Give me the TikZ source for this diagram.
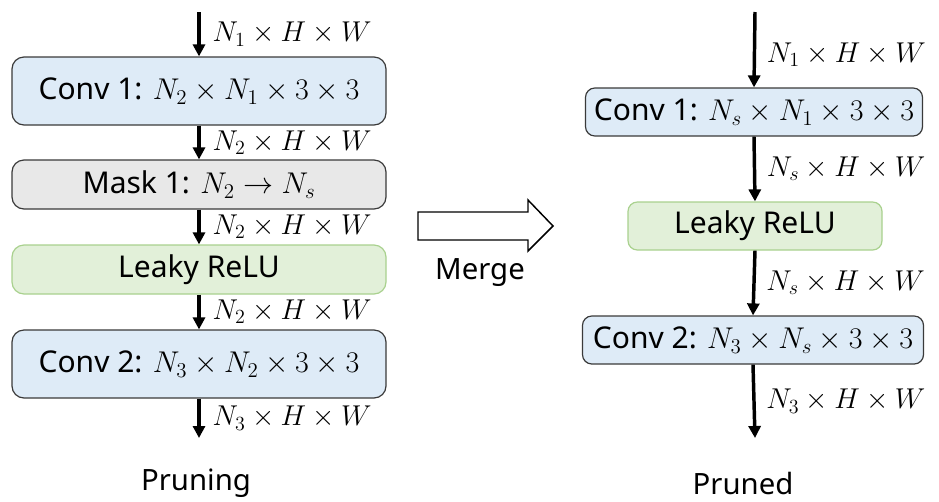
\documentclass[tikz,border=0pt]{standalone}
\usepackage{fix-cm}
\usepackage{fontspec}
\setmainfont{Noto Sans}
\usetikzlibrary{positioning, arrows.meta}
\definecolor{convblue}{HTML}{DEEBF7}
\definecolor{maskgrey}{HTML}{E8E8E8}
\definecolor{relugreen}{HTML}{E2F0D9}
\definecolor{reluedge}{HTML}{A9D18E}
\definecolor{boxedge}{HTML}{3A3A3A}

\begin{document}
\begin{tikzpicture}[x=0.75pt, y=-0.75pt,
                layer/.style={draw=boxedge, line width=0.9pt, rounded corners=9pt,
                    align=center, font=\fontsize{22.5}{25}\selectfont, inner sep=0pt},
                convbox/.style={layer, fill=convblue},
                maskbox/.style={layer, fill=maskgrey},
                relubox/.style={layer, fill=relugreen, draw=reluedge},
                flow/.style={line width=2.6pt, -{Triangle[length=9pt, width=9pt]}},
                dims/.style={font=\fontsize{21.5}{24}\selectfont, inner sep=1pt},
                caption/.style={font=\fontsize{22}{24}\selectfont}
            ]
            \useasboundingbox (0,0) rectangle (939,501);

            % Pruning (left)
            \coordinate (lin) at (199, 12);
            \node[convbox, minimum width=280.5pt, minimum height=51pt] (lconv1) at (199, 91)
                {Conv 1: $N_2\times N_1\times 3\times 3$};
            \node[maskbox, minimum width=280.5pt, minimum height=36.75pt] (lmask) at (199, 184.5)
                {Mask 1: $N_2\rightarrow N_s$};
            \node[relubox, minimum width=280.5pt, minimum height=36.75pt] (lrelu) at (199, 269.5)
                {Leaky ReLU};
            \node[convbox, minimum width=280.5pt, minimum height=51pt] (lconv2) at (199, 364)
                {Conv 2: $N_3\times N_2\times 3\times 3$};
            \coordinate (lout) at (199, 438);

            \draw[flow] (lin) -- (lconv1.north)
                node[midway, right=8pt, dims] {$N_1\times H\times W$};
            \draw[flow] (lconv1.south) -- (lmask.north)
                node[midway, right=8pt, dims] {$N_2\times H\times W$};
            \draw[flow] (lmask.south) -- (lrelu.north)
                node[midway, right=8pt, dims] {$N_2\times H\times W$};
            \draw[flow] (lrelu.south) -- (lconv2.north)
                node[midway, right=8pt, dims] {$N_2\times H\times W$};
            \draw[flow] (lconv2.south) -- (lout)
                node[midway, right=8pt, dims] {$N_3\times H\times W$};

            \node[caption] (pruning) at (196, 483) {Pruning};

            % Merge arrow
            \draw[line width=1.1pt, fill=white] (418,212) -- (528,212) -- (528,200)
                -- (553,226) -- (528,251) -- (528,240) -- (418,240) -- cycle;
            \node[caption] (merge) at (480, 273) {Merge};

            % Pruned (right)
            \coordinate (rin) at (755, 12);
            \node[convbox, minimum width=252.75pt, minimum height=36pt, rounded corners=7pt] (rconv1) at (754, 112)
                {Conv 1: $N_s\times N_1\times 3\times 3$};
            \node[relubox, minimum width=190.5pt, minimum height=36pt, rounded corners=7pt] (rrelu) at (755, 226)
                {Leaky ReLU};
            \node[convbox, minimum width=255.75pt, minimum height=36pt, rounded corners=7pt] (rconv2) at (753, 340)
                {Conv 2: $N_3\times N_s\times 3\times 3$};
            \coordinate (rout) at (755, 438);

            \draw[flow] (rin) -- (rconv1.north)
                node[midway, right=7pt, dims, yshift=-4pt] {$N_1\times H\times W$};
            \draw[flow] (rconv1.south) -- (rrelu.north)
                node[midway, right=7pt, dims] {$N_s\times H\times W$};
            \draw[flow] (rrelu.south) -- (rconv2.north)
                node[midway, right=7pt, dims] {$N_s\times H\times W$};
            \draw[flow] (rconv2.south) -- (rout)
                node[midway, right=7pt, dims] {$N_3\times H\times W$};

            \node[caption] (pruned) at (743, 483) {Pruned};

\end{tikzpicture}
\end{document}
